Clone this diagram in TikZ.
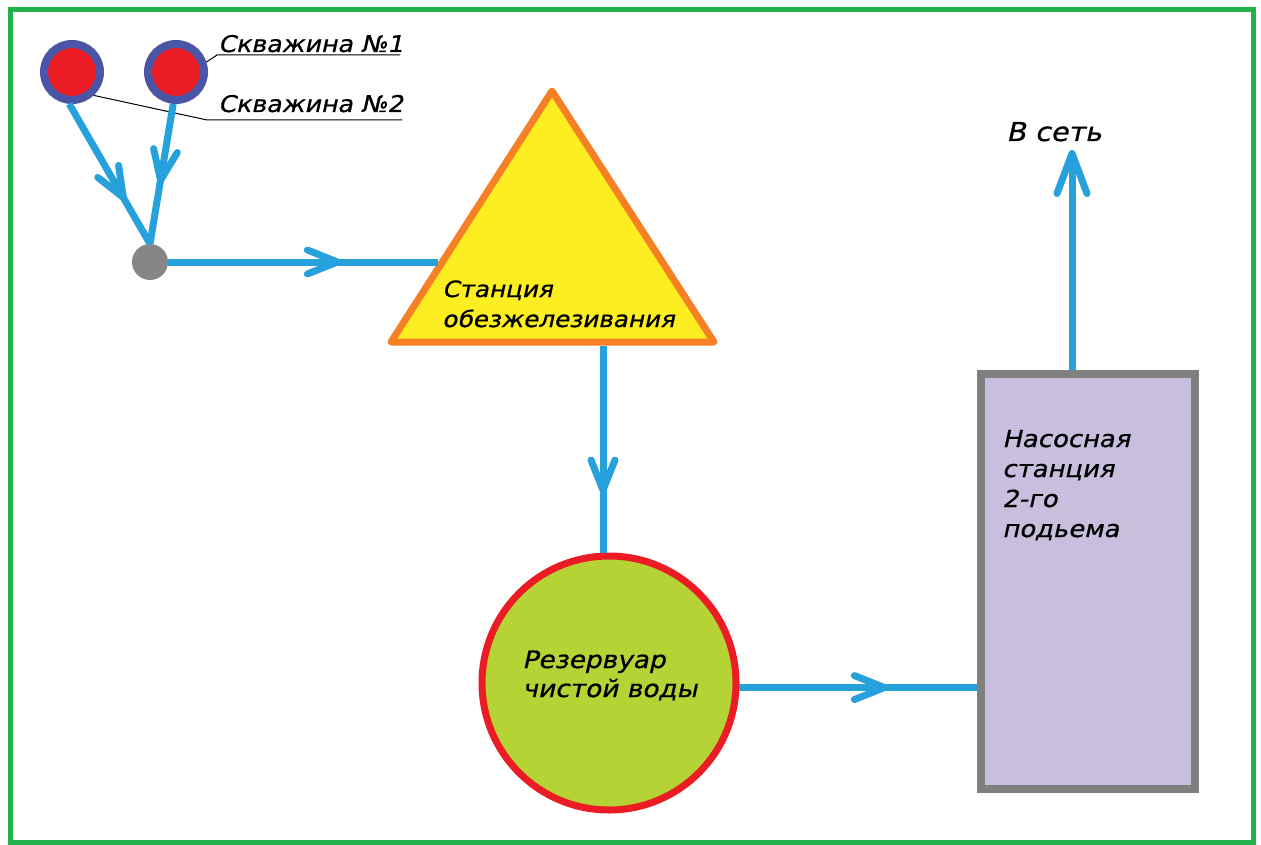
\documentclass[tikz,border=0pt]{standalone}
\usepackage{fontspec}
\newfontfamily\gost[FakeSlant=0.22,FakeStretch=1.1,FakeBold=0.8]{DejaVu Sans}
\usetikzlibrary{arrows.meta,decorations.markings,calc}
\definecolor{frame}{HTML}{22B14C}
\definecolor{ringblue}{HTML}{4B55A8}
\definecolor{wellred}{HTML}{EC1C24}
\definecolor{pipeblue}{HTML}{27A1DB}
\definecolor{junc}{HTML}{868686}
\definecolor{triorange}{HTML}{F58025}
\definecolor{triyellow}{HTML}{FCEE21}
\definecolor{resgreen}{HTML}{B5D334}
\definecolor{boxgray}{HTML}{808080}
\definecolor{boxlav}{HTML}{C8BFDF}
\tikzset{
  well/.style={circle, draw=ringblue, fill=wellred, line width=8pt, minimum size=56pt, inner sep=0pt},
  pipe/.style={draw=pipeblue, line width=7pt, line cap=butt},
  mid/.style={postaction={decorate, decoration={markings,
      mark=at position #1 with {\arrow{Straight Barb[length=30pt,width=24pt,round]}}}}},
  leader/.style={draw=black, line width=1pt},
  txt/.style={inner sep=0pt, align=left, anchor=base west},
}
\begin{document}
\begin{tikzpicture}[x=1pt,y=-1pt]
\useasboundingbox (0,0) rectangle (1261,845);
\fill[white] (0,0) rectangle (1261,845);
\draw[frame, line width=5pt] (10,10) rectangle (1253,842);

% wells and junction
\node[well] (w1) at (72,72) {};
\node[well] (w2) at (176,72) {};
\node[circle, fill=junc, minimum size=36pt, inner sep=0pt] (jn) at (150,262) {};

% labels of wells (base anchor = last line)
\node[txt, font=\gost\fontsize{23}{30}\selectfont] (l1) at (218,52) {Скважина №1};
\node[txt, font=\gost\fontsize{23}{30}\selectfont] (l2) at (218,112) {Скважина №2};
\coordinate (u1a) at (217,55);
\coordinate (u1b) at (400,55);
\coordinate (u2a) at (207,120);
\coordinate (u2b) at (402,120);
\draw[leader] (w2.18) -- (u1a) -- (u1b);
\draw[leader] (w1.-47) -- (u2a) -- (u2b);

% triangle (iron removal station)
\coordinate (tA) at (552,91);
\coordinate (tL) at (391,342);
\coordinate (tR) at (714,342);
\draw[draw=triorange, fill=triyellow, line width=7pt, line join=round] (tA) -- (tL) -- (tR) -- cycle;
\coordinate (tleft) at (438,262);
\coordinate (tbot) at (603,345.5);
\node[txt, font=\gost\fontsize{22.4}{30}\selectfont] (ttxt) at (442,327) {Станция\\обезжелезивания};

% reservoir
\node[circle, draw=wellred, fill=resgreen, line width=7pt, minimum size=254pt, inner sep=0pt] (res) at (609,683) {};
\node[txt, font=\gost\fontsize{24}{29}\selectfont] (rtxt) at (522,697) {Резервуар\\чистой воды};

% pump station
\node[rectangle, draw=boxgray, fill=boxlav, line width=8pt, minimum width=214pt, minimum height=415pt, inner sep=0pt] (pump) at (1088,581.5) {};
\node[txt, font=\gost\fontsize{23.5}{30}\selectfont] (ptxt) at (1002,537) {Насосная\\станция\\2-го\\подьема};

% network
\node[txt, font=\gost\fontsize{26}{30}\selectfont] (net) at (1006,141) {В сеть};
\coordinate (netpt) at (1072,150);

% pipes
\draw[pipe, mid=0.69] (w1.265) -- (jn.north);
\draw[pipe, mid=0.57] (w2.265) -- (jn.north);
\draw[pipe, mid=0.64] (jn.east) -- (tleft);
\draw[pipe, mid=0.715] (tbot) -- (tbot |- res.north);
\draw[pipe, mid=0.625] (res.-2) -- (res.-2 -| pump.west);
\draw[pipe, -{Straight Barb[length=40pt,width=30pt,round]}] (pump.north -| netpt) -- (netpt);
\end{tikzpicture}
\end{document}
